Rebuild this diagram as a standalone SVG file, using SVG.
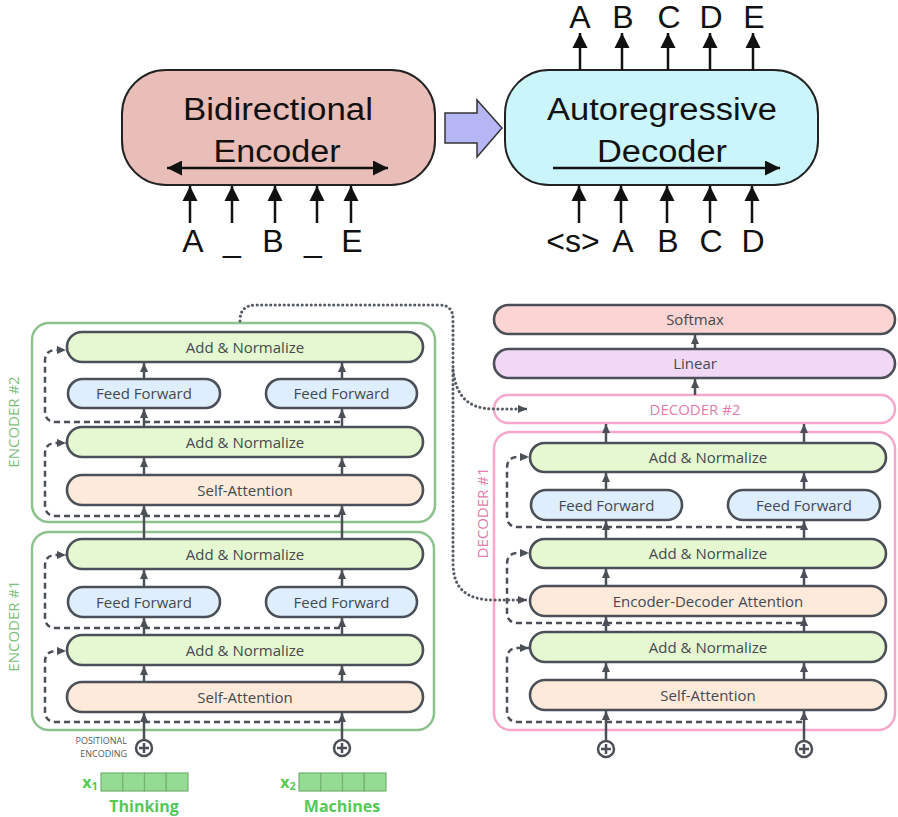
<svg xmlns="http://www.w3.org/2000/svg" width="898" height="817" viewBox="0 0 898 817">
<defs>
<style>
.big{font-family:"Liberation Sans",Arial,sans-serif;font-size:31px;fill:#111;text-anchor:middle}
.lbl{font-family:"Liberation Sans",Arial,sans-serif;font-size:32px;fill:#111;text-anchor:middle}
.blk{stroke:#111;stroke-width:2.5;fill:none}
.box{stroke:#4b5058;stroke-width:2.6}
.an{fill:#e6f8d2}
.ff{fill:#dfeefc}
.sa{fill:#fdeadb}
.t{font-family:"Open Sans","Noto Sans",sans-serif;font-size:15px;fill:#444950;text-anchor:middle}
.ln{stroke:#4b5058;stroke-width:2.5;fill:none}
.ds{stroke:#4b5058;stroke-width:2.5;fill:none;stroke-dasharray:6 4}
.dt{stroke:#555b63;stroke-width:3;fill:none;stroke-dasharray:0.1 4.4;stroke-linecap:round}
.enc{fill:none;stroke:#8dc18d;stroke-width:2.5}
.dec{fill:none;stroke:#f6a7cb;stroke-width:2.5}
.gl{font-family:"Open Sans","Noto Sans",sans-serif;font-size:15px;fill:#7cbf7c;text-anchor:middle}
.pl{font-family:"Open Sans","Noto Sans",sans-serif;font-size:15px;fill:#e47cab;text-anchor:middle}
.gb{font-family:"Open Sans","Noto Sans",sans-serif;font-size:16px;font-weight:bold;fill:#55c955;text-anchor:middle}
.cell{fill:#94dc94;stroke:#74b074;stroke-width:1.2}
.pe{font-family:"Open Sans","Noto Sans",sans-serif;font-size:9px;fill:#555a60;text-anchor:end}
</style>
<marker id="ah" viewBox="0 0 10 10" markerWidth="9" markerHeight="9" markerUnits="userSpaceOnUse" refX="10" refY="5" orient="auto">
<path d="M0,0.5 L10,5 L0,9.5 z" fill="#4b5058"/>
</marker>
<marker id="bh" viewBox="0 0 10 10" markerWidth="20" markerHeight="15" markerUnits="userSpaceOnUse" refX="10" refY="5" orient="auto">
<path d="M0,0 L10,5 L0,10 z" fill="#111"/>
</marker>
<marker id="bs" viewBox="0 0 10 10" markerWidth="20" markerHeight="15" markerUnits="userSpaceOnUse" refX="0" refY="5" orient="auto">
<path d="M10,0 L0,5 L10,10 z" fill="#111"/>
</marker>
<marker id="vh" viewBox="0 0 10 10" markerWidth="15" markerHeight="20" markerUnits="userSpaceOnUse" refX="10" refY="5" orient="auto">
<path d="M0,0 L10,5 L0,10 z" fill="#111"/>
</marker>
</defs>
<rect width="898" height="817" fill="#fff"/>

<!-- Top: BART -->
<g id="bidirectional-encoder">
<rect x="122" y="70" width="313" height="115" rx="44" fill="#e9bdb8" stroke="#222" stroke-width="2"/>
<text class="big" x="278" y="120" textLength="190" lengthAdjust="spacingAndGlyphs">Bidirectional</text>
<text class="big" x="277" y="162" textLength="127" lengthAdjust="spacingAndGlyphs">Encoder</text>
<line class="blk" x1="167" y1="168" x2="388" y2="168" marker-start="url(#bs)" marker-end="url(#bh)"/>
</g>
<g id="block-arrow">
<polygon points="445,113 477,113 477,100 502,128 477,157 477,143 445,143" fill="#b6b6f5" stroke="#333" stroke-width="1.5"/>
</g>
<g id="autoregressive-decoder">
<rect x="505" y="70" width="313" height="115" rx="44" fill="#c9f5fb" stroke="#222" stroke-width="2"/>
<text class="big" x="662" y="120" textLength="230" lengthAdjust="spacingAndGlyphs">Autoregressive</text>
<text class="big" x="662" y="162" textLength="130" lengthAdjust="spacingAndGlyphs">Decoder</text>
<line class="blk" x1="553" y1="168" x2="780" y2="168" marker-end="url(#bh)"/>
</g>
<g id="bart-connectors">
<line class="blk" x1="190" y1="223" x2="190" y2="186" marker-end="url(#vh)"/>
<line class="blk" x1="232" y1="223" x2="232" y2="186" marker-end="url(#vh)"/>
<line class="blk" x1="275" y1="223" x2="275" y2="186" marker-end="url(#vh)"/>
<line class="blk" x1="317" y1="223" x2="317" y2="186" marker-end="url(#vh)"/>
<line class="blk" x1="351" y1="223" x2="351" y2="186" marker-end="url(#vh)"/>
<line class="blk" x1="579" y1="223" x2="579" y2="186" marker-end="url(#vh)"/>
<line class="blk" x1="621" y1="223" x2="621" y2="186" marker-end="url(#vh)"/>
<line class="blk" x1="667" y1="223" x2="667" y2="186" marker-end="url(#vh)"/>
<line class="blk" x1="710" y1="223" x2="710" y2="186" marker-end="url(#vh)"/>
<line class="blk" x1="752" y1="223" x2="752" y2="186" marker-end="url(#vh)"/>
<line class="blk" x1="580" y1="70" x2="580" y2="33" marker-end="url(#vh)"/>
<line class="blk" x1="622" y1="70" x2="622" y2="33" marker-end="url(#vh)"/>
<line class="blk" x1="668" y1="70" x2="668" y2="33" marker-end="url(#vh)"/>
<line class="blk" x1="710" y1="70" x2="710" y2="33" marker-end="url(#vh)"/>
<line class="blk" x1="753" y1="70" x2="753" y2="33" marker-end="url(#vh)"/>
</g>
<g id="bart-labels">
<text class="lbl" x="193" y="252">A</text>
<text class="lbl" x="232" y="252">_</text>
<text class="lbl" x="273" y="252">B</text>
<text class="lbl" x="313" y="252">_</text>
<text class="lbl" x="352" y="252">E</text>
<text class="lbl" x="573" y="252">&lt;s&gt;</text>
<text class="lbl" x="623" y="252">A</text>
<text class="lbl" x="668" y="252">B</text>
<text class="lbl" x="711" y="252">C</text>
<text class="lbl" x="753" y="252">D</text>
<text class="lbl" x="580" y="28">A</text>
<text class="lbl" x="623" y="28">B</text>
<text class="lbl" x="669" y="28">C</text>
<text class="lbl" x="711" y="28">D</text>
<text class="lbl" x="754" y="28">E</text>
</g>

<!-- Encoder #2 -->
<g id="encoder2">
<rect class="enc" x="32" y="323" width="403" height="199" rx="17"/>
<text class="gl" transform="translate(19,422) rotate(-90)">ENCODER #2</text>
</g>
<g id="enc2-addnorm-top"><rect class="box an" x="67" y="332" width="356" height="30" rx="15"/><text class="t" x="245" y="352.5">Add &amp; Normalize</text></g>
<g id="enc2-ff1"><rect class="box ff" x="68" y="379" width="152" height="29" rx="14.5"/><text class="t" x="144" y="399">Feed Forward</text></g>
<g id="enc2-ff2"><rect class="box ff" x="266" y="379" width="151" height="29" rx="14.5"/><text class="t" x="341.5" y="399">Feed Forward</text></g>
<g id="enc2-addnorm-low"><rect class="box an" x="67" y="427" width="356" height="30" rx="15"/><text class="t" x="245" y="447.5">Add &amp; Normalize</text></g>
<g id="enc2-selfatt"><rect class="box sa" x="67" y="475" width="356" height="30" rx="15"/><text class="t" x="245" y="495.5">Self-Attention</text></g>

<!-- Encoder #1 -->
<g id="encoder1">
<rect class="enc" x="32" y="532" width="402" height="198" rx="17"/>
<text class="gl" transform="translate(19,626) rotate(-90)">ENCODER #1</text>
</g>
<g id="enc1-addnorm-top"><rect class="box an" x="67" y="539" width="356" height="30" rx="15"/><text class="t" x="245" y="559.5">Add &amp; Normalize</text></g>
<g id="enc1-ff1"><rect class="box ff" x="68" y="587" width="152" height="30" rx="15"/><text class="t" x="144" y="607.5">Feed Forward</text></g>
<g id="enc1-ff2"><rect class="box ff" x="266" y="587" width="151" height="30" rx="15"/><text class="t" x="341.5" y="607.5">Feed Forward</text></g>
<g id="enc1-addnorm-low"><rect class="box an" x="67" y="635" width="356" height="30" rx="15"/><text class="t" x="245" y="655.5">Add &amp; Normalize</text></g>
<g id="enc1-selfatt"><rect class="box sa" x="67" y="682" width="356" height="30" rx="15"/><text class="t" x="245" y="702.5">Self-Attention</text></g>

<g id="pos-enc1"><circle cx="144" cy="748" r="8" fill="#fff" stroke="#4b5058" stroke-width="2.5"/><path d="M139,748 H149 M144,743 V753" stroke="#4b5058" stroke-width="2.5"/>
<text class="pe" x="127" y="743.5">POSITIONAL</text><text class="pe" x="127" y="756.5">ENCODING</text></g>
<g id="pos-enc2"><circle cx="342" cy="748" r="8" fill="#fff" stroke="#4b5058" stroke-width="2.5"/><path d="M337,748 H347 M342,743 V753" stroke="#4b5058" stroke-width="2.5"/></g>

<g id="input-x1">
<text class="gb" x="90" y="788">x<tspan font-size="11" dy="2">1</tspan></text>
<rect class="cell" x="101" y="773" width="21.75" height="18"/><rect class="cell" x="122.75" y="773" width="21.75" height="18"/><rect class="cell" x="144.5" y="773" width="21.75" height="18"/><rect class="cell" x="166.25" y="773" width="21.75" height="18"/>
<text class="gb" x="144" y="812">Thinking</text>
</g>
<g id="input-x2">
<text class="gb" x="288" y="788">x<tspan font-size="11" dy="2">2</tspan></text>
<rect class="cell" x="299" y="773" width="21.75" height="18"/><rect class="cell" x="320.75" y="773" width="21.75" height="18"/><rect class="cell" x="342.5" y="773" width="21.75" height="18"/><rect class="cell" x="364.25" y="773" width="21.75" height="18"/>
<text class="gb" x="342" y="812">Machines</text>
</g>

<!-- Decoder -->
<g id="softmax"><rect class="box" x="494" y="305" width="401" height="29" rx="14.5" fill="#fbd4d3"/><text class="t" x="695" y="325">Softmax</text></g>
<g id="linear"><rect class="box" x="494" y="349" width="401" height="29" rx="14.5" fill="#f1d9f6"/><text class="t" x="695" y="369">Linear</text></g>
<g id="decoder2"><rect class="dec" x="494" y="395" width="401" height="28" rx="14" fill="#fff"/><text class="pl" x="695" y="414.5">DECODER #2</text></g>
<g id="decoder1">
<rect class="dec" x="494" y="432" width="401" height="298" rx="17"/>
<text class="pl" transform="translate(488,513) rotate(-90)">DECODER #1</text>
</g>
<g id="dec1-addnorm-top"><rect class="box an" x="530" y="443" width="356" height="29" rx="14.5" /><text class="t" x="708" y="463">Add &amp; Normalize</text></g>
<g id="dec1-ff1"><rect class="box ff" x="531" y="490" width="151" height="30" rx="15"/><text class="t" x="606.5" y="510.5">Feed Forward</text></g>
<g id="dec1-ff2"><rect class="box ff" x="728" y="490" width="152" height="30" rx="15"/><text class="t" x="804" y="510.5">Feed Forward</text></g>
<g id="dec1-addnorm-mid"><rect class="box an" x="530" y="539" width="356" height="29" rx="14.5"/><text class="t" x="708" y="559">Add &amp; Normalize</text></g>
<g id="dec1-encdec"><rect class="box sa" x="530" y="586" width="356" height="30" rx="15"/><text class="t" x="708" y="606.5">Encoder-Decoder Attention</text></g>
<g id="dec1-addnorm-low"><rect class="box an" x="530" y="632" width="356" height="30" rx="15"/><text class="t" x="708" y="652.5">Add &amp; Normalize</text></g>
<g id="dec1-selfatt"><rect class="box sa" x="530" y="680" width="356" height="30" rx="15"/><text class="t" x="708" y="700.5">Self-Attention</text></g>
<g id="pos-dec1"><circle cx="606" cy="749" r="8" fill="#fff" stroke="#4b5058" stroke-width="2.5"/><path d="M601,749 H611 M606,744 V754" stroke="#4b5058" stroke-width="2.5"/></g>
<g id="pos-dec2"><circle cx="804" cy="749" r="8" fill="#fff" stroke="#4b5058" stroke-width="2.5"/><path d="M799,749 H809 M804,744 V754" stroke="#4b5058" stroke-width="2.5"/></g>

<g id="connectors">
<!-- encoder columns -->
<path class="ln" d="M144,740 V713" marker-end="url(#ah)"/>
<path class="ln" d="M342,740 V713" marker-end="url(#ah)"/>
<path class="ln" d="M144,682 V666" marker-end="url(#ah)"/>
<path class="ln" d="M342,682 V666" marker-end="url(#ah)"/>
<path class="ln" d="M144,635 V618" marker-end="url(#ah)"/>
<path class="ln" d="M342,635 V618" marker-end="url(#ah)"/>
<path class="ln" d="M144,587 V570" marker-end="url(#ah)"/>
<path class="ln" d="M342,587 V570" marker-end="url(#ah)"/>
<path class="ln" d="M144,539 V506" marker-end="url(#ah)"/>
<path class="ln" d="M342,539 V506" marker-end="url(#ah)"/>
<path class="ln" d="M144,475 V458" marker-end="url(#ah)"/>
<path class="ln" d="M342,475 V458" marker-end="url(#ah)"/>
<path class="ln" d="M144,427 V409" marker-end="url(#ah)"/>
<path class="ln" d="M342,427 V409" marker-end="url(#ah)"/>
<path class="ln" d="M144,379 V363" marker-end="url(#ah)"/>
<path class="ln" d="M342,379 V363" marker-end="url(#ah)"/>
<!-- encoder residuals -->
<path class="ds" d="M340,722 H56 Q45,722 45,711 V662 Q45,651 56,651 H66" marker-end="url(#ah)"/>
<path class="ds" d="M340,628 H56 Q45,628 45,617 V566 Q45,555 56,555 H66" marker-end="url(#ah)"/>
<path class="ds" d="M340,516 H56 Q45,516 45,505 V454 Q45,443 56,443 H66" marker-end="url(#ah)"/>
<path class="ds" d="M340,422 H56 Q45,422 45,411 V361 Q45,350 56,350 H66" marker-end="url(#ah)"/>
<!-- decoder columns -->
<path class="ln" d="M606,741 V711" marker-end="url(#ah)"/>
<path class="ln" d="M804,741 V711" marker-end="url(#ah)"/>
<path class="ln" d="M606,680 V663" marker-end="url(#ah)"/>
<path class="ln" d="M804,680 V663" marker-end="url(#ah)"/>
<path class="ln" d="M606,632 V617" marker-end="url(#ah)"/>
<path class="ln" d="M804,632 V617" marker-end="url(#ah)"/>
<path class="ln" d="M606,586 V569" marker-end="url(#ah)"/>
<path class="ln" d="M804,586 V569" marker-end="url(#ah)"/>
<path class="ln" d="M606,539 V521" marker-end="url(#ah)"/>
<path class="ln" d="M804,539 V521" marker-end="url(#ah)"/>
<path class="ln" d="M606,490 V473" marker-end="url(#ah)"/>
<path class="ln" d="M804,490 V473" marker-end="url(#ah)"/>
<path class="ln" d="M606,443 V424" marker-end="url(#ah)"/>
<path class="ln" d="M804,443 V424" marker-end="url(#ah)"/>
<path class="ln" d="M695,395 V379" marker-end="url(#ah)"/>
<path class="ln" d="M695,349 V335" marker-end="url(#ah)"/>
<!-- decoder residuals -->
<path class="ds" d="M802,722 H518 Q507,722 507,711 V659 Q507,648 518,648 H529" marker-end="url(#ah)"/>
<path class="ds" d="M802,623 H518 Q507,623 507,612 V564 Q507,553 518,553 H529" marker-end="url(#ah)"/>
<path class="ds" d="M802,527 H518 Q507,527 507,516 V468 Q507,457 518,457 H529" marker-end="url(#ah)"/>
<!-- encoder-decoder dotted link -->
<path class="dt" d="M240,321 C240,310 245,305 257,305 L439,305 C449,305 453,310 453,320 L453,563 C453,588 466,600 494,600 L520,600"/>
<path class="ln" d="M519,600 H527" marker-end="url(#ah)"/>
<path class="dt" d="M453,370 C456,396 468,409 494,409 L520,409"/>
<path class="ln" d="M519,409 H527" marker-end="url(#ah)"/>
</g>
</svg>
